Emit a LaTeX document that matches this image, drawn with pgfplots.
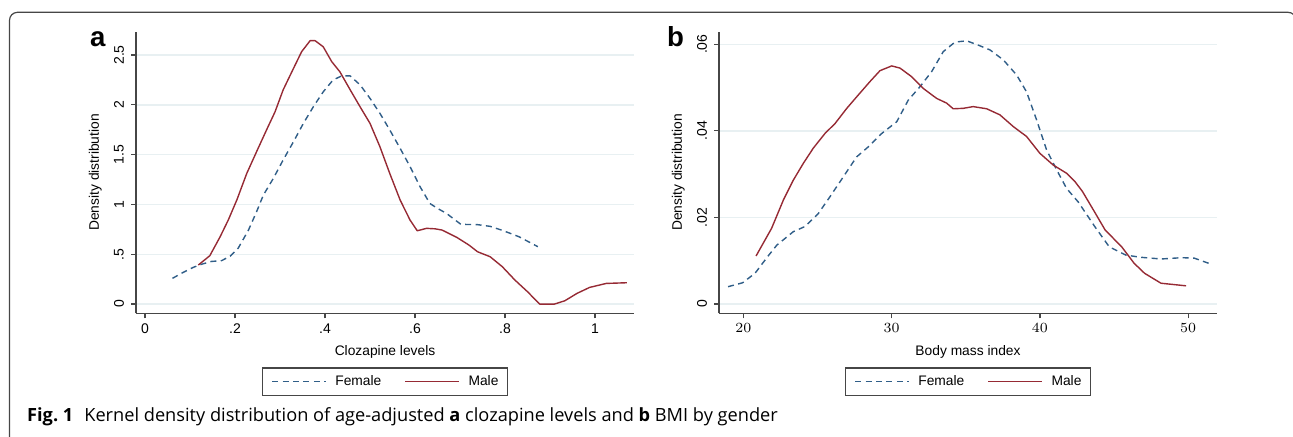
\documentclass[border=0pt]{standalone}
\usepackage{fontspec}
\setmainfont{Liberation Sans}
\newfontfamily\capfont{Open Sans}
\usepackage{pgfplots}
\pgfplotsset{compat=1.18}

\definecolor{femc}{RGB}{48,94,136}
\definecolor{malc}{RGB}{150,42,52}
\definecolor{gridc}{RGB}{232,240,242}
\definecolor{axc}{RGB}{70,70,70}

% 1 px of the reference = 0.5pt
\pgfplotsset{
  stata/.style={
    scale only axis, width=249pt, height=140.8pt,
    anchor=south west,
    axis x line*=bottom, axis y line*=left,
    axis line style={-, draw=axc, line width=0.6pt},
    tick align=outside, major tick length=2.5pt,
    tick style={draw=axc, line width=0.6pt},
    ymajorgrids, major grid style={draw=gridc, line width=0.7pt},
    scaled ticks=false,
    ticklabel style={font=\fontsize{7}{8}\selectfont},
    xticklabel style={anchor=center, yshift=-5pt},
    yticklabel style={rotate=90, anchor=center, yshift=6pt},
    label style={font=\fontsize{6.9}{8}\selectfont},
    xlabel style={at={(axis description cs:0.5,0)}, anchor=center, yshift=-19.4pt},
    ylabel style={at={(axis description cs:0,0.5)}, anchor=center, yshift=20.3pt},
    legend columns=2,
    legend image code/.code={\draw[##1] (0pt,0pt) -- (26.7pt,0pt);},
    legend style={at={(axis description cs:0.5,0)}, anchor=north, yshift=-27pt,
      draw=axc, line width=0.6pt, inner xsep=4.4pt, inner ysep=3.6pt,
      font=\fontsize{6.9}{8}\selectfont,
      nodes={inner sep=0pt, text height=5pt, text depth=1.5pt},
      column sep=4.5pt,
      /tikz/every even column/.append style={column sep=11.7pt}},
    fem/.style={femc, line width=0.7pt, dash pattern=on 3pt off 2.2pt, line join=round},
    mal/.style={malc, line width=0.7pt, line join=round},
  }
}

\begin{document}
\begin{tikzpicture}
\path[use as bounding box] (0pt,0pt) rectangle (646.5pt,-218pt);
\draw[axc, line width=0.6pt, rounded corners=4pt]
  (4.75pt,-220pt) -- (4.75pt,-6.15pt) -- (648pt,-6.15pt) -- (648pt,-220pt);

\begin{axis}[stata, at={(68pt,-156.65pt)},
  xmin=-0.02, xmax=1.0867, ymin=-0.093, ymax=2.734,
  xtick={0,0.2,0.4,0.6,0.8,1}, xticklabels={0,.2,.4,.6,.8,1},
  ytick={0,0.5,1,1.5,2,2.5}, yticklabels={0,.5,1,1.5,2,2.5},
  xlabel={Clozapine levels}, ylabel={Density distribution}]
\addplot[fem] coordinates {(0.061,0.258) (0.085,0.318) (0.107,0.368) (0.126,0.400) (0.148,0.428) (0.170,0.435) (0.189,0.480) (0.207,0.560) (0.230,0.743) (0.248,0.927) (0.263,1.094) (0.285,1.260) (0.307,1.446) (0.330,1.630) (0.352,1.814) (0.374,1.980) (0.396,2.130) (0.418,2.250) (0.437,2.290) (0.456,2.290) (0.478,2.200) (0.500,2.065) (0.522,1.915) (0.544,1.747) (0.567,1.563) (0.589,1.380) (0.611,1.180) (0.633,1.010) (0.650,0.960) (0.670,0.910) (0.702,0.800) (0.739,0.797) (0.767,0.780) (0.794,0.740) (0.831,0.676) (0.873,0.576)};
\addlegendentry{Female}
\addplot[mal] coordinates {(0.1185,0.392) (0.144,0.485) (0.167,0.676) (0.185,0.843) (0.204,1.044) (0.226,1.310) (0.248,1.530) (0.270,1.747) (0.289,1.930) (0.307,2.150) (0.330,2.366) (0.348,2.533) (0.367,2.644) (0.378,2.644) (0.396,2.583) (0.415,2.433) (0.433,2.332) (0.456,2.150) (0.478,1.980) (0.500,1.814) (0.522,1.580) (0.544,1.310) (0.567,1.044) (0.589,0.843) (0.605,0.736) (0.626,0.760) (0.645,0.755) (0.660,0.743) (0.693,0.669) (0.720,0.592) (0.739,0.525) (0.767,0.475) (0.794,0.375) (0.822,0.241) (0.850,0.124) (0.877,0.000) (0.910,0.000) (0.933,0.033) (0.960,0.107) (0.988,0.167) (1.025,0.207) (1.071,0.214)};
\addlegendentry{Male}
\end{axis}

\begin{axis}[stata, at={(359.5pt,-156.65pt)},
  xmin=18.35, xmax=51.95, ymin=-0.00215, ymax=0.0629,
  xtick={20,30,40,50},
  ytick={0,0.02,0.04,0.06}, yticklabels={0,.02,.04,.06},
  xlabel={Body mass index}, ylabel={Density distribution}]
\addplot[fem] coordinates {(18.96,0.0040) (19.94,0.0049) (20.78,0.0071) (21.62,0.0109) (22.25,0.0136) (23.36,0.0167) (24.15,0.0179) (25.05,0.0209) (25.84,0.0248) (26.74,0.0294) (27.64,0.0340) (28.42,0.0363) (29.33,0.0394) (30.34,0.0421) (31.12,0.0471) (31.91,0.0502) (32.70,0.0537) (33.48,0.0583) (34.27,0.0605) (35.06,0.0608) (35.84,0.0598) (36.63,0.0587) (37.53,0.0564) (38.43,0.0529) (39.10,0.0490) (39.78,0.0425) (40.45,0.0356) (41.13,0.0310) (41.80,0.0267) (42.58,0.0236) (43.70,0.0179) (44.68,0.0132) (45.80,0.0113) (46.78,0.0108) (48.17,0.0104) (49.58,0.0107) (50.41,0.0106) (51.39,0.0094)};
\addlegendentry{Female}
\addplot[mal] coordinates {(20.85,0.0111) (21.90,0.0175) (22.69,0.0240) (23.36,0.0286) (24.04,0.0325) (24.71,0.0360) (25.50,0.0394) (26.18,0.0417) (26.97,0.0452) (27.75,0.0483) (28.54,0.0514) (29.21,0.0539) (30.00,0.0550) (30.56,0.0545) (31.35,0.0525) (32.13,0.0498) (33.03,0.0475) (33.71,0.0464) (34.15,0.0451) (34.83,0.0452) (35.50,0.0456) (36.41,0.0451) (37.30,0.0437) (38.20,0.0410) (39.10,0.0387) (40.00,0.0348) (40.90,0.0321) (41.80,0.0302) (42.36,0.0283) (42.87,0.0260) (43.70,0.0212) (44.40,0.0171) (45.52,0.0132) (46.36,0.0094) (47.06,0.0071) (48.17,0.0048) (49.86,0.0042)};
\addlegendentry{Male}
\end{axis}

\node[anchor=base west, inner sep=0pt, font=\fontsize{13.8}{14}\selectfont\bfseries] at (44.85pt,-23.35pt) {a};
\node[anchor=base west, inner sep=0pt, font=\fontsize{13.8}{14}\selectfont\bfseries] at (333.35pt,-23.35pt) {b};
\node[anchor=base west, inner sep=0pt, font=\capfont\fontsize{9.1}{10}\selectfont] at (13.4pt,-210.85pt)
  {\textbf{Fig.~1}\hspace{5.5pt}Kernel density distribution of age-adjusted \textbf{a} clozapine levels and \textbf{b} BMI by gender};
\end{tikzpicture}
\end{document}
